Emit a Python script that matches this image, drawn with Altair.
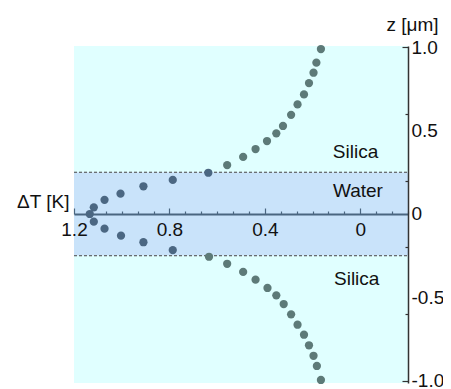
import altair as alt
import pandas as pd

# data
dT = [0.165, 0.184, 0.196, 0.215, 0.236, 0.263, 0.290, 0.324, 0.352, 0.391, 0.439, 0.491, 0.558, 0.637,
      0.786, 0.909, 1.005, 1.072, 1.117, 1.134,
      1.117, 1.072, 1.003, 0.909, 0.786, 0.634, 0.558, 0.491, 0.439, 0.389, 0.352, 0.321, 0.290, 0.263,
      0.236, 0.215, 0.196, 0.182, 0.165]
z = [0.988, 0.906, 0.846, 0.784, 0.716, 0.656, 0.594, 0.527, 0.483, 0.437, 0.389, 0.342, 0.293, 0.247,
     0.204, 0.166, 0.122, 0.085, 0.040, 0.0,
     -0.046, -0.088, -0.130, -0.169, -0.216, -0.256, -0.298, -0.347, -0.393, -0.443, -0.487, -0.539, -0.601, -0.663,
     -0.723, -0.786, -0.849, -0.910, -0.994]

layer_names = ["Silica", "Water", "Silica"]
layer_z0 = [0.25, -0.25, -1.012]
layer_z1 = [1.006, 0.25, -0.25]
layer_colors = ["#e0ffff", "#c9e3fa", "#e0ffff"]

label_text = ["Silica", "Water", "Silica"]
label_x = [0.02, 0.01, 0.015]
label_z = [0.37, 0.135, -0.39]

boundary_z = [0.25, -0.25]

x_minor = [round(1.2 - i * 0.4 / 6, 4) for i in range(22)]
x_major = [1.2, 0.8, 0.4, 0]
y_minor = [round(-1.0 + i * 0.1, 2) for i in range(21)]
y_major = [-1.0, -0.5, 0, 0.5, 1.0]

W, H = 334, 337
XDOM = [1.2, -0.2]
YDOM = [-1.012, 1.006]
axis_y_px = H * (YDOM[1] - 0) / (YDOM[1] - YDOM[0])

pts = pd.DataFrame({"dT": dT, "z": z})
pts["region"] = ["Water" if abs(v) < 0.25 else "Silica" for v in z]
bands = pd.DataFrame({"name": layer_names, "z0": layer_z0, "z1": layer_z1, "c": layer_colors})
labels = pd.DataFrame({"t": label_text, "x": label_x, "z": label_z})
bnd = pd.DataFrame({"z": boundary_z})

xs = alt.Scale(domain=XDOM, nice=False, zero=False)
ys = alt.Scale(domain=YDOM, nice=False, zero=False)

FONT = "Liberation Sans"
FS = 19
LABEL_EXPR = "datum.value == 0 ? '0' : replace(format(datum.value, '.1f'), '\u2212', '-')"

# Layer carrying tick axes (ticks pointing inward)
band_layer = alt.Chart(bands).mark_rect().encode(
    x=alt.value(0), x2=alt.value(W),
    y=alt.Y("z0:Q", scale=ys, axis=alt.Axis(
        orient="left", offset=-W, values=y_minor, labels=False, title=None, grid=False, zindex=2,
        tickSize={"condition": {"test": "abs(datum.value*2 - round(datum.value*2)) < 0.001", "value": 6}, "value": 3},
        tickColor="#333333", domainColor="#333333", domainWidth=1.5, tickWidth=1.2)),
    y2="z1:Q",
    color=alt.Color("c:N", scale=None),
)

boundary = alt.Chart(bnd).mark_rule(color="#444444", strokeDash=[3, 2], strokeWidth=1).encode(
    y=alt.Y("z:Q", scale=ys), x=alt.value(0), x2=alt.value(W)
)

points = alt.Chart(pts).mark_circle(size=68, opacity=1).encode(
    x=alt.X("dT:Q", scale=xs, axis=alt.Axis(
        orient="top", offset=-axis_y_px, values=x_minor, labels=False, title=None, grid=False, zindex=2,
        tickSize={"condition": {"test": "abs(datum.value*2.5 - round(datum.value*2.5)) < 0.001", "value": 6}, "value": 3},
        tickColor="#4a6680", domainColor="#4a6680", domainWidth=2, tickWidth=1.2)),
    y=alt.Y("z:Q", scale=ys),
    color=alt.Color("region:N", scale=alt.Scale(domain=["Water", "Silica"], range=["#4b6782", "#5d7a78"]), legend=None),
)

# Layer carrying label axes
text = alt.Chart(labels).mark_text(font=FONT, fontSize=FS, color="#111111", align="center").encode(
    x=alt.X("x:Q", scale=xs, axis=alt.Axis(
        orient="bottom", offset=-(H - axis_y_px), values=x_major, ticks=False, domain=False, grid=False, zindex=2,
        labelFont=FONT, labelFontSize=FS, labelColor="#111111", labelPadding=7, labelFlush=False,
        labelExpr=LABEL_EXPR,
        title="ΔT [K]", titleFont=FONT, titleFontSize=FS, titleFontWeight="normal", titleColor="#111111",
        titleAngle=0, titleAnchor="start", titleAlign="right", titleBaseline="bottom", titleX=-5, titleY=-2)),
    y=alt.Y("z:Q", scale=ys, axis=alt.Axis(
        orient="right", values=y_major, ticks=False, domain=False, grid=False, zindex=2,
        labelFont=FONT, labelFontSize=FS, labelColor="#111111", labelPadding=3, labelFlush=False,
        labelExpr=LABEL_EXPR,
        title="z [μm]", titleFont=FONT, titleFontSize=FS, titleFontWeight="normal", titleColor="#111111",
        titleAngle=0, titleAlign="right", titleBaseline="bottom", titleX=30, titleY=-12)),
    text="t:N",
)

left = alt.layer(band_layer, boundary, points)
chart = alt.layer(left, text).resolve_axis(x="independent", y="independent").properties(
    width=W, height=H,
    padding={"left": 66, "top": 38, "right": 35, "bottom": 12},
    autosize=alt.AutoSizeParams(type="none"),
).configure_view(stroke=None).configure_axis(labelOverlap=False)

chart.save("out.html", embed_options={"renderer": "svg", "actions": False})
